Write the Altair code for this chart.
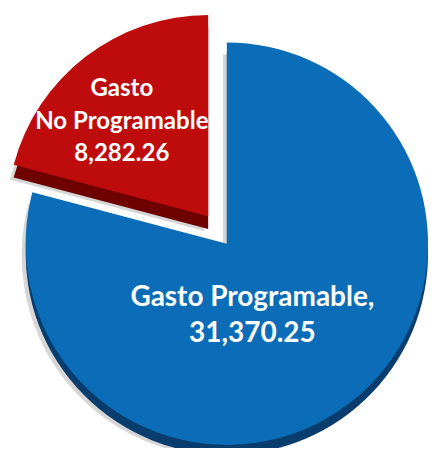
import math
import altair as alt
import pandas as pd

categories = ["Gasto No Programable", "Gasto Programable"]
values = [8282.26, 31370.25]
label_lines = [["Gasto", "No Programable", "8,282.26"], ["Gasto Programable,", "31,370.25"]]
colors = ["#BE0C0C", "#0B6CB7"]
edge_colors = ["#6E0000", "#083D6E"]

total = sum(values)
red_angle = 2 * math.pi * values[0] / total

df = pd.DataFrame({"cat": categories, "value": values, "order": [0, 1], "label": label_lines})

base = alt.Chart(df).transform_window(
    end="sum(value)", sort=[alt.SortField("order")], frame=[None, 0]
).transform_calculate(start="datum.end - datum.value")

theta_scale = alt.Scale(domain=[0, total], range=[-red_angle, 2 * math.pi - red_angle])

R = 205
centers = {categories[0]: (204, 208), categories[1]: (223, 236)}
depth = {categories[0]: 13, categories[1]: 10}


def arc(cat, dx, dy, color, opacity=1.0):
    cx, cy = centers[cat]
    return base.transform_filter(alt.datum.cat == cat).mark_arc(
        radius=R, color=color, opacity=opacity
    ).encode(
        theta=alt.Theta("start:Q", scale=theta_scale, stack=False),
        theta2="end:Q",
        x=alt.value(cx + dx),
        y=alt.value(cy + dy),
    )


layers = []
# soft shadows
for cat in categories:
    layers.append(arc(cat, -4, depth[cat] + 2, "#777777", 0.3))
# depth edges
for i, cat in enumerate(categories):
    layers.append(arc(cat, 0, depth[cat], edge_colors[i]))
# top faces
for i, cat in enumerate(categories):
    layers.append(arc(cat, 0, 0, colors[i]))

red_text = base.transform_filter(alt.datum.cat == categories[0]).mark_text(
    font="Lato", fontWeight="bold", fontSize=24.5, color="white", lineHeight=33,
    align="center", baseline="middle"
).encode(text="label", x=alt.value(116), y=alt.value(79))

blue_text = base.transform_filter(alt.datum.cat == categories[1]).mark_text(
    font="Lato", fontWeight="bold", fontSize=28.5, color="white", lineHeight=37,
    align="center", baseline="middle"
).encode(text="label", x=alt.value(249), y=alt.value(290))

chart = alt.layer(*layers, red_text, blue_text).properties(
    width=430, height=440, padding=0, autosize=alt.AutoSizeParams(type="none")
).configure_view(stroke=None)

chart.save("out.html", embed_options={"renderer": "svg", "actions": False})
